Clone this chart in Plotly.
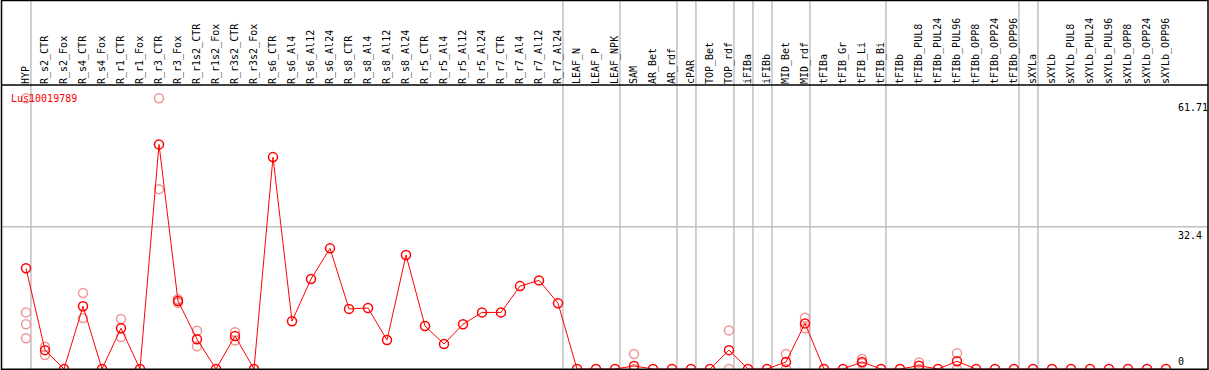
import plotly.graph_objects as go

categories = ["HYP", "R_s2_CTR", "R_s2_Fox", "R_s4_CTR", "R_s4_Fox", "R_r1_CTR", "R_r1_Fox",
              "R_r3_CTR", "R_r3_Fox", "R_r1s2_CTR", "R_r1s2_Fox", "R_r3s2_CTR", "R_r3s2_Fox",
              "R_s6_CTR", "R_s6_Al4", "R_s6_Al12", "R_s6_Al24", "R_s8_CTR", "R_s8_Al4", "R_s8_Al12",
              "R_s8_Al24", "R_r5_CTR", "R_r5_Al4", "R_r5_Al12", "R_r5_Al24", "R_r7_CTR", "R_r7_Al4",
              "R_r7_Al12", "R_r7_Al24", "LEAF_N", "LEAF_P", "LEAF_NPK", "SAM", "AR_Bet", "AR_rdf",
              "cPAR", "TOP_Bet", "TOP_rdf", "iFIBa", "iFIBb", "MID_Bet", "MID_rdf", "tFIBa",
              "tFIB_Gr", "tFIB_Li", "tFIB_Bi", "tFIBb", "tFIBb_PUL8", "tFIBb_PUL24", "tFIBb_PUL96",
              "tFIBb_OPP8", "tFIBb_OPP24", "tFIBb_OPP96", "sXYLa", "sXYLb", "sXYLb_PUL8",
              "sXYLb_PUL24", "sXYLb_PUL96", "sXYLb_OPP8", "sXYLb_OPP24", "sXYLb_OPP96"]

mean_values = [22.95, 4.3, 0, 14.3, 0, 9.3, 0, 51.2, 15.5, 6.8, 0, 7.5, 0,
               48.3, 10.9, 20.5, 27.5, 13.7, 13.9, 6.6, 26.0, 9.8, 5.7, 10.2, 12.9,
               12.9, 18.9, 20.2, 15.0, 0, 0, 0, 0.7, 0, 0, 0, 0, 4.3, 0, 0, 1.6, 10.4,
               0, 0, 1.6, 0, 0, 0.75, 0, 1.75, 0, 0, 0, 0, 0, 0, 0, 0, 0, 0, 0]

# replicate measurements (only the ones visible apart from the mean)
replicates = {
    "HYP": [61.7, 12.9, 10.2, 7.0],
    "R_s2_CTR": [5.1, 3.2],
    "R_s4_CTR": [17.3, 11.6],
    "R_r1_CTR": [11.4, 7.3],
    "R_r3_CTR": [61.7, 41.0],
    "R_r3_Fox": [15.9, 15.1],
    "R_r1s2_CTR": [8.7, 5.2],
    "R_r3s2_CTR": [8.4, 6.5],
    "SAM": [3.4, 0],
    "TOP_rdf": [8.8, 0],
    "MID_Bet": [3.4, 0],
    "MID_rdf": [11.7, 9.3],
    "tFIB_Li": [2.3, 1.3],
    "tFIBb_PUL8": [1.5, 0],
    "tFIBb_PUL96": [3.6, 0],
}

group_ends = ["HYP", "R_r7_Al24", "LEAF_NPK", "AR_rdf", "cPAR", "TOP_rdf", "iFIBa", "iFIBb",
              "MID_rdf", "tFIB_Bi", "tFIBb_OPP96", "sXYLa", "sXYLb_OPP96"]

y_ticks = [61.71, 32.4, 0]
y_tick_text = ["61.71", "32.4", "0"]
gene_name = "Lus10019789"

idx = {c: i for i, c in enumerate(categories)}
rep_x, rep_y = [], []
for c, vals in replicates.items():
    for v in vals:
        rep_x.append(idx[c])
        rep_y.append(v)

FONT = "DejaVu Sans Mono"
W, H = 1209, 370
L, R, T, B = 2, 39, 85, 1
pw = W - L - R
ph = H - T - B
px = lambda x: (x - L) / pw          # pixel -> paper x
py = lambda y: (H - B - y) / ph      # pixel -> paper y

fig = go.Figure()
fig.add_trace(go.Scatter(x=rep_x, y=rep_y, mode="markers",
                         marker=dict(symbol="circle-open", size=9,
                                     line=dict(width=1.5, color="rgb(238,150,150)"),
                                     color="rgb(238,150,150)"),
                         cliponaxis=False, hoverinfo="skip", showlegend=False))
fig.add_trace(go.Scatter(x=list(range(len(categories))), y=mean_values, mode="lines+markers",
                         line=dict(color="#ff0000", width=1),
                         marker=dict(symbol="circle-open", size=9, color="#ff0000",
                                     line=dict(width=1.5, color="#ff0000")),
                         cliponaxis=False, showlegend=False))

shapes = []
for c in group_ends:
    xv = idx[c] + 0.26
    shapes.append(dict(type="line", xref="x", yref="paper", x0=xv, x1=xv,
                       y0=0, y1=py(0), line=dict(color="#c0c0c0", width=1.5), layer="below"))
shapes.append(dict(type="line", xref="paper", yref="y", x0=0, x1=px(1208), y0=y_ticks[1], y1=y_ticks[1],
                   line=dict(color="#c0c0c0", width=1.5), layer="below"))
shapes.append(dict(type="rect", xref="paper", yref="paper", x0=px(1.5), x1=px(1208), y0=py(369.3), y1=py(0.5),
                   line=dict(color="black", width=1.5)))
shapes.append(dict(type="line", xref="paper", yref="paper", x0=px(1.5), x1=px(1208), y0=1, y1=1,
                   line=dict(color="black", width=1.5)))

annotations = [
    dict(text=gene_name, xref="paper", yref="paper", x=px(9), y=py(98), xanchor="left", yanchor="middle",
         showarrow=False, font=dict(family=FONT, size=10, color="#ff0000")),
    dict(text=y_tick_text[0], xref="paper", yref="y", x=px(1176), y=y_ticks[0], xanchor="left",
         yanchor="top", yshift=-2, showarrow=False, font=dict(family=FONT, size=10, color="black")),
    dict(text=y_tick_text[1], xref="paper", yref="y", x=px(1176), y=y_ticks[1], xanchor="left",
         yanchor="top", yshift=-1, showarrow=False, font=dict(family=FONT, size=10, color="black")),
    dict(text=y_tick_text[2], xref="paper", yref="y", x=px(1176), y=y_ticks[2], xanchor="left",
         yanchor="bottom", yshift=0, showarrow=False, font=dict(family=FONT, size=10, color="black")),
]

x_lo = (L - 26) / 19
x_hi = (W - R - 26) / 19
fig.update_layout(
    width=W, height=H,
    margin=dict(l=L, r=R, t=T, b=B, pad=0),
    paper_bgcolor="white", plot_bgcolor="white",
    shapes=shapes, annotations=annotations,
    xaxis=dict(range=[x_lo, x_hi], side="top", tickmode="array",
               tickvals=list(range(len(categories))), ticktext=categories,
               tickangle=-90, tickfont=dict(family=FONT, size=10, color="black"),
               showgrid=False, zeroline=False, showline=False, ticks="", automargin=False),
    yaxis=dict(range=[0, (H - B - T) / 4.387], showgrid=False, zeroline=False,
               showticklabels=False, showline=False, ticks="", automargin=False),
)

fig.write_html("out.html", config={"displayModeBar": False},
               post_script="document.body.style.margin='0px';document.body.style.overflow='hidden';")
